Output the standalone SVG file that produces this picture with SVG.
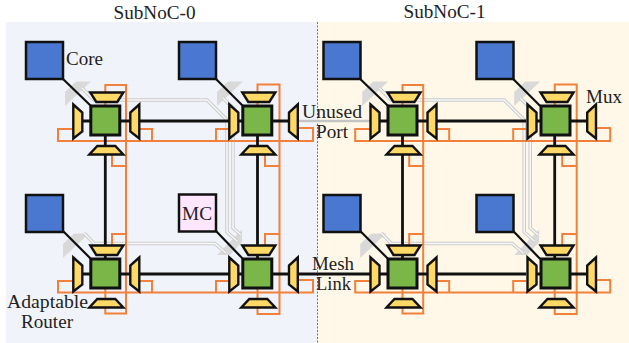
<svg xmlns="http://www.w3.org/2000/svg" xmlns:xlink="http://www.w3.org/1999/xlink" width="629" height="343" viewBox="0 0 629 343">
<style>
text{font-family:"Liberation Serif",serif;font-size:18px;fill:#222}
.core{fill:#4a78d0;stroke:#111;stroke-width:2.5}
.mc{fill:#ffe6ff;stroke:#111;stroke-width:2.5}
.sw{fill:#7ab648;stroke:#111;stroke-width:3}
.mux{fill:#ffd966;stroke:#111;stroke-width:2.4;stroke-linejoin:miter}
.or{fill:none;stroke:#f0803a;stroke-width:2}
.bk{fill:none;stroke:#111;stroke-width:2.8}
.thin{fill:none;stroke:#111;stroke-width:2.2}
.g1{fill:none;stroke:#cccccc;stroke-width:3.6}
.g2{fill:none;stroke:#f8f8f8;stroke-width:1.5}
.ar{fill:#d9d9d9}
</style>
<defs>
<polygon id="mt" class="mux" points="-15,-28 18,-28 12,-18.5 -9,-18.5"/>
<polygon id="mb" class="mux" points="-8,25.5 10,25.5 18,34 -16,34"/>
<g id="ra"><use xlink:href="#mt"/><use xlink:href="#mb"/>
<polygon class="mux" points="-32,-16 -23,-8 -23,11 -32,18"/>
<polygon class="mux" points="34,-16 25,-8 25,11 34,18"/>
<rect class="sw" x="-14.500" y="-14.500" width="29" height="29"/></g>
<g id="rb"><use xlink:href="#mt"/><use xlink:href="#mb"/>
<polygon class="mux" points="-28,-16 -19,-8 -19,11 -28,18"/>
<polygon class="mux" points="40.500,-16 31.700,-8 31.700,11 40.500,18"/>
<rect class="sw" x="-14.500" y="-14.500" width="29" height="29"/></g>
<g id="links">
<polygon class="ar" points="65,106 65,92 76,81.500 91,81.500"/>
<polygon class="ar" points="217,106 217,92 228,81.500 243,81.500"/>
<polygon class="ar" points="63,258 63,244 74,233.500 89,233.500"/>
<polygon class="ar" points="242,229.500 242,242 230,255 217,255"/>
<path class="g1" d="M82,88L94,100H207L227,120V232L237,241M223,98L233,108V228L241,235M84,233L94,243.500H215L226,253"/>
<path class="g2" d="M82,88L94,100H207L227,120V232L237,241M223,98L233,108V228L241,235M84,233L94,243.500H215L226,253"/>
<path class="or" d="M105.300,106V85H126V313.500H105.300V288M112,154V166H126M112,246V234H126M257.500,106V84.500H279.500V314H257.500V288M265,154V166H279.500M265,246V234H279.500"/>
<path class="or" d="M74,129H58V141H313V128H298M139,129H152V141M229,129H216V141M74,281H58V292.500H313V280H298M139,281H152V292.500M229,281H216V292.500"/>
<path class="bk" d="M82,121H91M120,121H130M139,121H229M238,121H243M272,121H289M82,274H91M120,274H130M139,274H229M238,274H243M272,274H289M105.300,135V146M105.300,154V246M105.300,255V259M257.500,135V146M257.500,154V246M257.500,255V259"/>
<path class="thin" d="M63,79L91,106M216,79L243,106M63,231L91,259M216,231L243,259"/>
</g>
</defs>
<rect x="6" y="22" width="311.500" height="321" fill="#f0f4fa"/>
<rect x="317.500" y="22" width="311.500" height="321" fill="#fff8e8"/>
<line x1="317.500" y1="22" x2="317.500" y2="343" stroke="#4a78d0" stroke-width="1" stroke-dasharray="2 1.500"/>
<g id="connectors">
<use xlink:href="#links"/>
<use xlink:href="#links" transform="translate(297.200)"/>
<path d="M298,121H372" fill="none" stroke="#c4c4c4" stroke-width="2.500"/>
<path d="M298,274H372" class="bk"/>
</g>
<g id="core-0"><rect class="core" x="26" y="42" width="37" height="37"/></g>
<g id="core-1"><rect class="core" x="179" y="42" width="37" height="37"/></g>
<g id="core-2"><rect class="core" x="26" y="195" width="37" height="37"/></g>
<g id="mc"><rect class="mc" x="179" y="194.500" width="37" height="37"/><text x="182" y="220" textLength="30" lengthAdjust="spacingAndGlyphs">MC</text></g>
<g id="core-3"><rect class="core" x="323.500" y="42" width="37" height="37"/></g>
<g id="core-4"><rect class="core" x="476.500" y="42" width="37" height="37"/></g>
<g id="core-5"><rect class="core" x="323.500" y="195" width="37" height="37"/></g>
<g id="core-6"><rect class="core" x="476.500" y="195" width="37" height="37"/></g>
<g id="router-0"><use xlink:href="#ra" x="105.300" y="120.500"/></g>
<g id="router-1"><use xlink:href="#rb" x="257.300" y="120.500"/></g>
<g id="router-2"><use xlink:href="#ra" x="105.300" y="273.500"/></g>
<g id="router-3"><use xlink:href="#rb" x="257.300" y="273.500"/></g>
<g id="router-4"><use xlink:href="#ra" x="402.500" y="120.500"/></g>
<g id="router-5"><use xlink:href="#rb" x="555.500" y="120.500"/></g>
<g id="router-6"><use xlink:href="#ra" x="402.500" y="273.500"/></g>
<g id="router-7"><use xlink:href="#rb" x="555.500" y="273.500"/></g>
<g id="labels">
<text x="113.500" y="19" textLength="82" lengthAdjust="spacingAndGlyphs">SubNoC-0</text>
<text x="403.500" y="18" textLength="82" lengthAdjust="spacingAndGlyphs">SubNoC-1</text>
<text x="66" y="65" textLength="37" lengthAdjust="spacingAndGlyphs">Core</text>
<text x="586" y="103" textLength="36" lengthAdjust="spacingAndGlyphs">Mux</text>
<text x="302" y="118" textLength="60" lengthAdjust="spacingAndGlyphs">Unused</text>
<text x="316" y="138" textLength="32" lengthAdjust="spacingAndGlyphs">Port</text>
<text x="312" y="270" textLength="42" lengthAdjust="spacingAndGlyphs">Mesh</text>
<text x="316" y="290" textLength="35" lengthAdjust="spacingAndGlyphs">Link</text>
<text x="7" y="308" textLength="81" lengthAdjust="spacingAndGlyphs">Adaptable</text>
<text x="21" y="328" textLength="52" lengthAdjust="spacingAndGlyphs">Router</text>
</g>
</svg>
